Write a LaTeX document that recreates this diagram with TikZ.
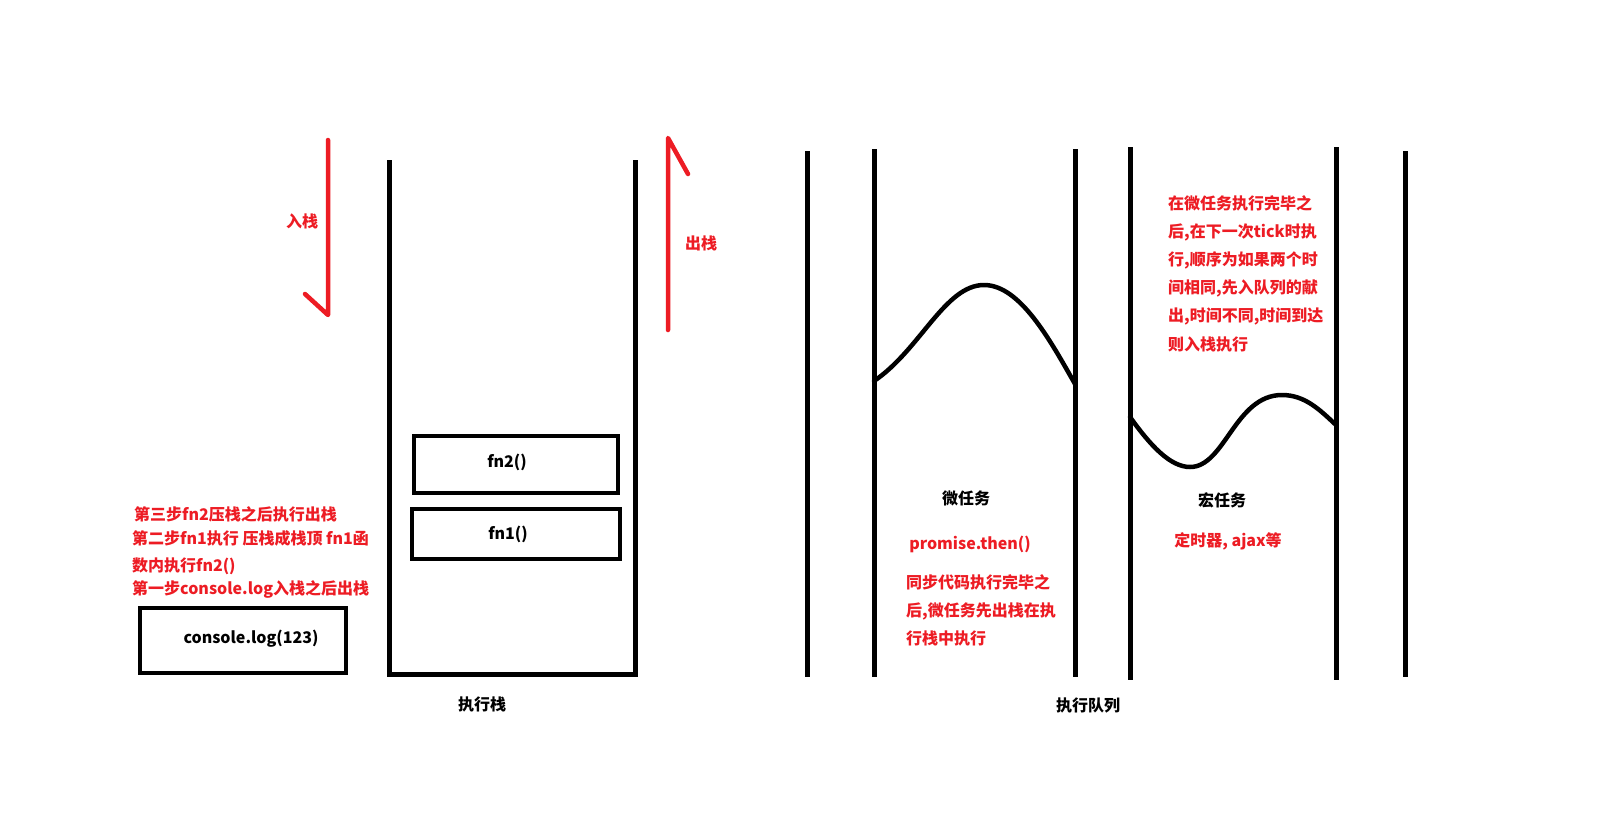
\documentclass[tikz,border=0pt]{standalone}
\usepackage{fontspec}
\setmainfont{Noto Sans CJK SC}
\definecolor{pred}{RGB}{237,28,36}
\tikzset{
  wall/.style={line width=5pt, black},
  redline/.style={line width=4.5pt, pred, line cap=round, line join=round},
  framebox/.style={draw, line width=4.5pt, minimum width=#1},
  boxtext/.style={font=\fontsize{16}{18}\selectfont\bfseries, inner sep=0pt},
  blacklbl/.style={font=\fontsize{16}{18}\selectfont\bfseries, text=black, inner sep=0pt},
  redlbl/.style={font=\fontsize{16}{18}\selectfont\bfseries, text=pred, inner sep=0pt},
  redpara/.style={font=\fontsize{16}{28.2}\selectfont\bfseries, text=pred, inner sep=0pt, align=left, anchor=north west},
}
\begin{document}
\begin{tikzpicture}[x=1pt,y=-1pt]
\useasboundingbox[fill=white] (0,0) rectangle (1602,819);
% execution stack
\draw[wall, line join=miter] (389,160) -- (389,674) -- (635,674) -- (635,160);
\node[framebox=204pt, minimum height=57pt, label={[boxtext, xshift=-9pt, yshift=2pt]center:fn2()}] (fn2) at (516,464.5) {};
\node[framebox=208pt, minimum height=50pt, label={[boxtext, xshift=-8pt]center:fn1()}] (fn1) at (516,534) {};
\node[framebox=206pt, minimum height=65pt, label={[boxtext, xshift=8pt, yshift=2pt]center:console.log(123)}] (clog) at (243,640.5) {};
\node[blacklbl] (stacklbl) at (482,704) {执行栈};
% arrows
\coordinate (inTop) at (328,140);
\coordinate (inBot) at (328,315);
\coordinate (inHook) at (305,294);
\draw[redline] (inTop) -- (inBot) -- (inHook);
\coordinate (outBot) at (668,330);
\coordinate (outTop) at (668,138);
\coordinate (outHook) at (688,174);
\draw[redline] (outBot) -- (outTop) -- (outHook);
\node[redlbl] (inlbl) at (302,221) {入栈};
\node[redlbl] (outlbl) at (701,243) {出栈};
% left notes
\node[redlbl, anchor=west] (step3) at (134,514) {第三步fn2压栈之后执行出栈};
\node[redpara] (step2) at (132,530) {第二步fn1执行 压栈成栈顶 fn1函\\[-1pt]数内执行fn2()};
\node[redlbl, anchor=west] (step1) at (132,589) {第一步console.log入栈之后出栈};
% queue
\draw[wall] (807,151) -- (807,677);
\draw[wall] (874,149) -- (874,677);
\draw[wall] (1075,149) -- (1075,677);
\draw[wall] (1130,147) -- (1130,680);
\draw[wall] (1336,147) -- (1336,680);
\draw[wall] (1405,151) -- (1405,677);
\node[blacklbl] (queuelbl) at (1088,705) {执行队列};
% waves
\draw[line width=4.5pt, line cap=round] (874,381) .. controls (920,350) and (945,285) .. (984,285) .. controls (1020,285) and (1050,340) .. (1075,384);
\draw[line width=4.5pt, line cap=round] (1130,417) .. controls (1150,445) and (1170,467) .. (1190,467) .. controls (1225,467) and (1235,395) .. (1282,395) .. controls (1305,395) and (1320,410) .. (1336,425);
% micro task
\node[blacklbl] (micro) at (966,498) {微任务};
\node[redlbl] (promise) at (970,544) {promise.then()};
\node[redpara] (micronote) at (906,574) {同步代码执行完毕之\\后,微任务先出栈在执\\行栈中执行};
% macro task
\node[blacklbl] (macro) at (1222,500) {宏任务};
\node[redlbl] (timers) at (1228,541) {定时器, ajax等};
\node[redpara] (macronote) at (1168,195) {在微任务执行完毕之\\后,在下一次tick时执\\行,顺序为如果两个时\\间相同,先入队列的献\\出,时间不同,时间到达\\则入栈执行};
\end{tikzpicture}
\end{document}
